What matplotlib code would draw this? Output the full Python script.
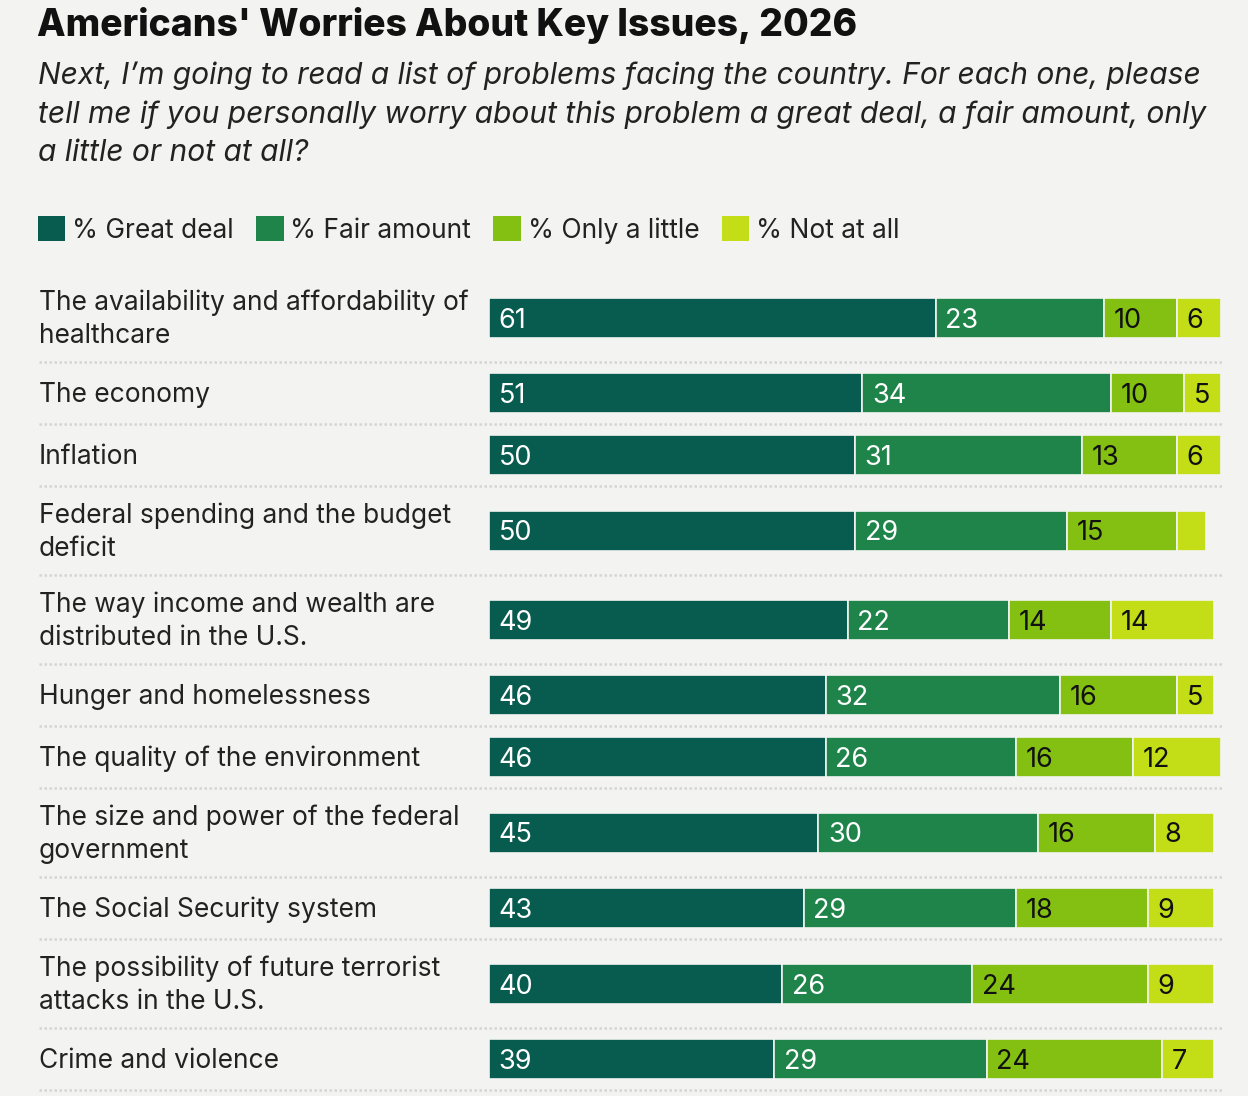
# stacked horizontal bars: how much Americans worry about key issues, 2026

import matplotlib.pyplot as plt
from matplotlib.patches import Patch
from matplotlib.transforms import blended_transform_factory

issues = [
    'The availability and affordability of\nhealthcare',
    'The economy',
    'Inflation',
    'Federal spending and the budget\ndeficit',
    'The way income and wealth are\ndistributed in the U.S.',
    'Hunger and homelessness',
    'The quality of the environment',
    'The size and power of the federal\ngovernment',
    'The Social Security system',
    'The possibility of future terrorist\nattacks in the U.S.',
    'Crime and violence',
]
great_deal = [61, 51, 50, 50, 49, 46, 46, 45, 43, 40, 39]
fair_amount = [23, 34, 31, 29, 22, 32, 26, 30, 29, 26, 29]
only_little = [10, 10, 13, 15, 14, 16, 16, 16, 18, 24, 24]
not_at_all = [6, 5, 6, 4, 14, 5, 12, 8, 9, 9, 7]

series_names = ['% Great deal', '% Fair amount', '% Only a little', '% Not at all']
colors = ['#075b4f', '#1f844a', '#84c012', '#c3de16']
text_colors = ['white', 'white', '#111111', '#111111']

bg = '#f3f4f2'
W, H = 1248, 1096

plt.rcParams['font.family'] = ['Inter', 'DejaVu Sans']

fig = plt.figure(figsize=(W / 100, H / 100), dpi=100)
fig.patch.set_facecolor(bg)

# bar axes spans full height, y in pixel units so rows can have different heights
bar_left, bar_right = 489, 1221
ax = fig.add_axes([bar_left / W, 0, (bar_right - bar_left) / W, 1])
ax.set_xlim(0, 100)
ax.set_ylim(H, 0)
ax.axis('off')

# row layout: two-line labels get taller rows
row_top = 273
heights = [89 if '\n' in s else 62 for s in issues]
centers = []
seps = []
y = row_top
for h in heights:
    centers.append(y + h / 2)
    y += h
    seps.append(y)

series = [great_deal, fair_amount, only_little, not_at_all]
left = [0] * len(issues)
for vals, col, tcol in zip(series, colors, text_colors):
    ax.barh(centers, vals, left=left, height=40, color=col,
            edgecolor=bg, linewidth=1.2)
    for yc, l, v in zip(centers, left, vals):
        if v >= 5:
            ax.annotate(str(v), (l, yc), xytext=(7, 0), textcoords='offset points',
                        ha='left', va='center_baseline', fontsize=19.5, color=tcol)
    left = [a + b for a, b in zip(left, vals)]

# row labels and dotted separators
trans = blended_transform_factory(fig.transFigure, ax.transData)
for yc, name in zip(centers, issues):
    ax.text(39 / W, yc + 2, name, transform=trans,
            ha='left', va='center', fontsize=19, color='#222222', linespacing=1.33)
for ys in seps:
    fig.add_artist(plt.Line2D([39 / W, 1222 / W], [1 - ys / H, 1 - ys / H],
                              color='#d3d6d3', linewidth=1.8, linestyle=(0, (1, 1))))

# title and subtitle
fig.text(37 / W, 1 - 25 / H, "Americans' Worries About Key Issues, 2026",
         ha='left', va='center', fontsize=26.8, fontweight='heavy', color='#111111')
fig.text(38 / W, 1 - 114 / H,
         'Next, I\u2019m going to read a list of problems facing the country. For each one, please\n'
         'tell me if you personally worry about this problem a great deal, a fair amount, only\n'
         'a little or not at all?',
         ha='left', va='center', fontsize=21.6, fontstyle='italic', color='#222222',
         linespacing=1.47)

# legend
handles = [Patch(facecolor=c, edgecolor='none') for c in colors]
fig.legend(handles, series_names, loc='center left', bbox_to_anchor=(27 / W, 1 - 230 / H),
           ncol=4, frameon=False, fontsize=19, handlelength=1.05, handleheight=1.05,
           handletextpad=0.25, columnspacing=0.85, labelcolor='#222222', borderaxespad=0)

fig.savefig('out.png', dpi=100, facecolor=bg)
